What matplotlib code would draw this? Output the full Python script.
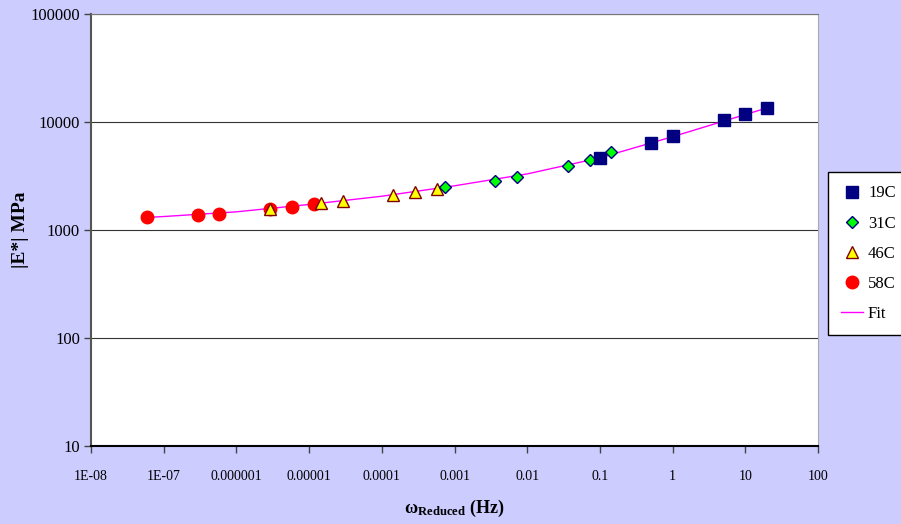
import matplotlib.pyplot as plt
from matplotlib.ticker import FixedLocator, FixedFormatter, NullLocator

# 19C
w_19 = [0.1, 0.5, 1.0, 5.0, 10.0, 20.0]
e_19 = [4670, 6400, 7380, 10450, 11860, 13490]

# 31C
w_31 = [7.3e-4, 3.64e-3, 7.24e-3, 0.0364, 0.072, 0.1435]
e_31 = [2485, 2862, 3118, 3941, 4477, 5272]

# 46C
w_46 = [2.9e-6, 1.45e-5, 2.9e-5, 1.44e-4, 2.9e-4, 5.8e-4]
e_46 = [1574, 1766, 1845, 2110, 2248, 2399]

# 58C
w_58 = [5.9e-8, 2.97e-7, 5.8e-7, 2.9e-6, 5.8e-6, 1.17e-5]
e_58 = [1312, 1368, 1416, 1556, 1633, 1753]

# fit curve
w_fit = [5.9e-8, 1e-7, 1e-6, 1e-5, 1e-4, 1e-3, 1e-2, 0.1, 1.0, 10.0, 20.0]
e_fit = [1305, 1330, 1470, 1720, 2050, 2560, 3300, 4650, 7300, 11700, 13500]

x_ticks = [1e-8, 1e-7, 1e-6, 1e-5, 1e-4, 1e-3, 1e-2, 1e-1, 1, 10, 100]
x_labels = ["1E-08", "1E-07", "0.000001", "0.00001", "0.0001", "0.001",
            "0.01", "0.1", "1", "10", "100"]
y_ticks = [10, 100, 1000, 10000, 100000]
y_labels = ["10", "100", "1000", "10000", "100000"]

plt.rcParams["font.family"] = ["Liberation Serif", "DejaVu Serif"]
plt.rcParams["mathtext.fontset"] = "custom"
plt.rcParams["mathtext.rm"] = "Liberation Serif"
plt.rcParams["mathtext.bf"] = "Liberation Serif:bold"
plt.rcParams["mathtext.it"] = "Liberation Serif:italic"

bg = "#CCCCFF"
fig = plt.figure(figsize=(9.01, 5.24), dpi=100, facecolor=bg)
ax = fig.add_axes([0.101, 0.149, 0.807, 0.8245])
ax.set_facecolor("white")

ax.plot(w_fit, e_fit, color="#FF00FF", lw=1, zorder=2, label="Fit")
ax.plot(w_58, e_58, ls="none", marker="o", ms=9, mfc="#FF0000", mec="#FF0000",
        zorder=3, label="58C")
ax.plot(w_46, e_46, ls="none", marker="^", ms=9, mfc="#FFFF00", mec="#800000",
        mew=1, zorder=4, label="46C")
ax.plot(w_31, e_31, ls="none", marker="D", ms=6.5, mfc="#00FF00", mec="#000080",
        mew=1, zorder=5, label="31C")
ax.plot(w_19, e_19, ls="none", marker="s", ms=9, mfc="#000080", mec="#000080",
        zorder=6, label="19C")

ax.set_xscale("log")
ax.set_yscale("log")
ax.set_xlim(1e-8, 100)
ax.set_ylim(10, 100000)

ax.xaxis.set_major_locator(FixedLocator(x_ticks))
ax.xaxis.set_major_formatter(FixedFormatter(x_labels))
ax.xaxis.set_minor_locator(NullLocator())
ax.yaxis.set_major_locator(FixedLocator(y_ticks))
ax.yaxis.set_major_formatter(FixedFormatter(y_labels))
ax.yaxis.set_minor_locator(NullLocator())

ax.tick_params(axis="both", direction="out", length=5, width=1, color="#444444",
               labelcolor="black")
ax.tick_params(axis="x", pad=12, labelsize=10)
ax.tick_params(axis="y", pad=3, labelsize=12)

ax.grid(True, axis="y", color="#333333", lw=0.8)
ax.set_axisbelow(True)

ax.spines["left"].set_color("#555555")
ax.spines["left"].set_linewidth(1.5)
ax.spines["bottom"].set_color("black")
ax.spines["bottom"].set_linewidth(1.5)
ax.spines["top"].set_color("#777777")
ax.spines["right"].set_color("#AAAAAA")

ax.set_ylabel("|E*| MPa", fontsize=14, fontweight="bold", labelpad=1)
ax.set_xlabel(r"$\mathbf{\omega}_{\mathbf{Reduced}}$ (Hz)", fontsize=13,
              fontweight="bold", labelpad=11)

handles, labels = ax.get_legend_handles_labels()
order = [4, 3, 2, 1, 0]
leg = fig.legend([handles[i] for i in order], [labels[i] for i in order],
                 loc="upper left", bbox_to_anchor=(828 / 901, 1 - 172 / 524),
                 fontsize=12, frameon=True, fancybox=False, edgecolor="black",
                 facecolor="white", framealpha=1, handlelength=1.3,
                 labelspacing=0.85, borderpad=0.8, borderaxespad=0,
                 handletextpad=0.3)
leg.get_frame().set_linewidth(1)

fig.savefig("out.png", dpi=100, facecolor=bg)
